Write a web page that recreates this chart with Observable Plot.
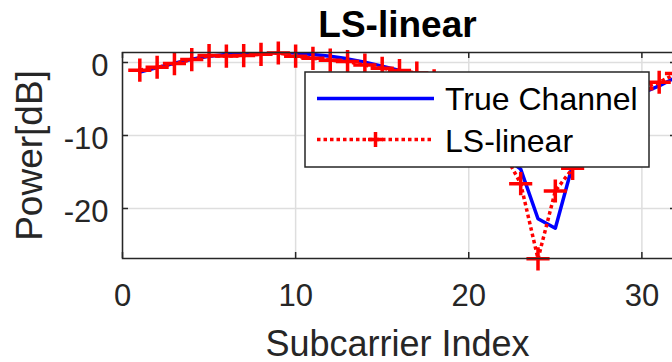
<!DOCTYPE html>
<html><head><meta charset="utf-8">
<script src="https://cdn.jsdelivr.net/npm/d3@7"></script>
<script src="https://cdn.jsdelivr.net/npm/@observablehq/plot@0.6"></script>
<style>
html,body{margin:0;padding:0;background:#fff;overflow:hidden;}
svg{display:block;max-width:none !important;}
</style>
</head><body><div id="chart"></div>
<script>
// ---- data ----
const subcarriers = [1,2,3,4,5,6,7,8,9,10,11,12,13,14,15,16,17,18,19,20,21,22,23,24,25,26,27,28,29,30,31,32];
const trueChannel = [-1.3,-0.7,-0.1,0.45,0.85,1.1,1.25,1.35,1.38,1.3,1.1,0.85,0.5,0.05,-0.5,-1.1,-1.8,-2.7,-3.9,-5.6,-8.5,-12.8,-14.6,-21.4,-22.7,-14.0,-9.0,-6.5,-5.0,-4.2,-3.2,-2.0];
const lsLinear = [-1.05,-0.65,-0.15,0.4,0.95,0.88,0.95,1.12,1.3,0.87,0.57,0.32,0.12,-0.35,-0.8,-1.1,-1.45,-2.5,-3.9,-5.8,-8.5,-12.2,-16.6,-26.9,-17.6,-14.5,-9.8,-7.0,-5.2,-3.6,-2.7,-1.5];
const xTicks = [0,10,20,30];
const yTicks = [0,-10,-20];
const xDomain = [0,32];
const yDomain = [-26.85,1.37];
const titleText = "LS-linear";
const xLabel = "Subcarrier Index";
const yLabel = "Power[dB]";
const seriesNames = ["True Channel","LS-linear"];
const seriesColors = ["#0000ff","#ff0000"];

// ---- layout ----
const W = 676, H = 362, mL = 122, mR = 0, mT = 52, mB = 104;
const plotW = W - mL - mR, plotH = H - mT - mB;
const font = "'Liberation Sans', Arial, Helvetica, sans-serif";
const ink = "#262626";
const tickLen = 6;

const blueData = subcarriers.map((x,i)=>({x, y: trueChannel[i]}));
const redData = subcarriers.map((x,i)=>({x, y: lsLinear[i]}));

const chart = Plot.plot({
  width: W, height: H,
  marginLeft: mL, marginRight: mR, marginTop: mT, marginBottom: mB,
  style: {fontFamily: font, background: "#fff", color: ink, overflow: "visible", maxWidth: "none"},
  x: {domain: xDomain, axis: null},
  y: {domain: yDomain, axis: null},
  marks: [
    Plot.gridX(xTicks, {x: d=>d, stroke: "#dedede", strokeOpacity: 1, strokeWidth: 1.5}),
    Plot.gridY(yTicks, {y: d=>d, stroke: "#dedede", strokeOpacity: 1, strokeWidth: 1.5}),
    Plot.line(blueData, {x: "x", y: "y", stroke: seriesColors[0], strokeWidth: 3.5, clip: true}),
    Plot.line(redData, {x: "x", y: "y", stroke: seriesColors[1], strokeWidth: 3.5, strokeDasharray: "3.5,3", strokeLinecap: "butt", clip: true}),
    Plot.dot(redData, {x: "x", y: "y", symbol: "plus", r: 7.5, stroke: seriesColors[1], strokeWidth: 3.5}),
    Plot.frame({stroke: ink, strokeWidth: 1.5}),
    // inward ticks
    Plot.tickX(xTicks, {x: d=>d, insetTop: plotH - tickLen, stroke: ink, strokeWidth: 1.5}),
    Plot.tickX(xTicks, {x: d=>d, insetBottom: plotH - tickLen, stroke: ink, strokeWidth: 1.5}),
    Plot.tickY(yTicks, {y: d=>d, insetRight: plotW - tickLen, stroke: ink, strokeWidth: 1.5}),
    Plot.tickY(yTicks, {y: d=>d, insetLeft: plotW - tickLen, stroke: ink, strokeWidth: 1.5}),
    // tick labels
    Plot.text(xTicks, {x: d=>d, text: d=>String(d), frameAnchor: "bottom", dy: 47, textAnchor: "middle", lineAnchor: "bottom", fontSize: 31, fill: ink}),
    Plot.text(yTicks, {y: d=>d, text: d=>String(d), frameAnchor: "left", dx: -14, dy: 4, textAnchor: "end", lineAnchor: "middle", fontSize: 31, fill: ink}),
    // axis labels
    Plot.text([xLabel], {text: d=>d, frameAnchor: "bottom", dx: -2, dy: 97, textAnchor: "middle", lineAnchor: "bottom", fontSize: 36, fill: ink}),
    Plot.text([yLabel], {text: d=>d, frameAnchor: "left", dx: -92, rotate: -90, textAnchor: "middle", lineAnchor: "middle", fontSize: 37, fill: ink}),
    // title
    Plot.text([titleText], {text: d=>d, frameAnchor: "top", dx: -2, dy: -16, textAnchor: "middle", lineAnchor: "bottom", fontSize: 37, fontWeight: "bold", fill: "#000"})
  ]
});

// ---- legend (box inside the axes, top right) ----
const svg = d3.select(chart);
const lg = svg.append("g").attr("font-family", font).attr("text-anchor", "start");
const box = {x: 305, y: 72, w: 344, h: 95};
lg.append("rect").attr("x", box.x).attr("y", box.y).attr("width", box.w).attr("height", box.h)
  .attr("fill", "#fff").attr("stroke", ink).attr("stroke-width", 1.5);
const rows = [{y: 98.5, baseline: 110}, {y: 139.5, baseline: 151.5}];
seriesNames.forEach((name, i) => {
  const r = rows[i];
  const ln = lg.append("line").attr("x1", 317).attr("x2", 434).attr("y1", r.y).attr("y2", r.y)
    .attr("stroke", seriesColors[i]).attr("stroke-width", 3.5);
  if (i === 1) {
    ln.attr("stroke-dasharray", "3.5,3");
    const c = 375.5, s = 7.5;
    lg.append("path").attr("d", `M${c-s},${r.y}H${c+s}M${c},${r.y-s}V${r.y+s}`)
      .attr("stroke", seriesColors[i]).attr("stroke-width", 3.5).attr("fill", "none");
  }
  lg.append("text").attr("x", 445).attr("y", r.baseline).attr("font-size", 32).attr("fill", "#000")
    .attr("text-anchor", "start").text(name);
});

document.getElementById("chart").appendChild(chart);
</script>
</body></html>
